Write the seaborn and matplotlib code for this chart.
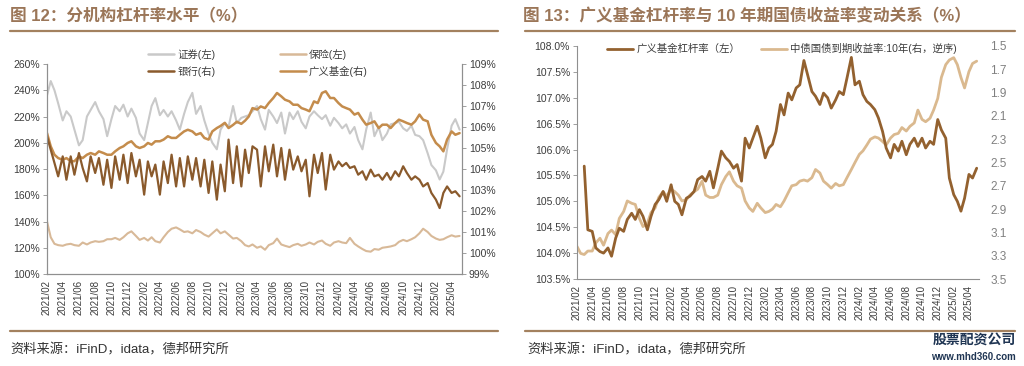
import pandas as pd
import matplotlib
matplotlib.use("Agg")
import matplotlib.pyplot as plt
import matplotlib.dates as mdates
from matplotlib.lines import Line2D
from matplotlib.ticker import MultipleLocator, FuncFormatter
import seaborn as sns

# ---- values, one point per half month from 2021/02 ----
# 证券(左), %
sec_lev = [236, 247, 240, 230, 217, 224, 220, 210, 198, 202,
           220, 225, 231, 224, 218, 205, 218, 228, 224, 229,
           220, 226, 219, 207, 202, 215, 228, 234, 221, 225,
           220, 224, 217, 210, 222, 231, 238, 222, 228, 217,
           207, 200, 195, 210, 215, 212, 228, 215, 219, 220,
           221, 224, 228, 218, 210, 225, 220, 215, 223, 207,
           223, 218, 224, 216, 211, 220, 224, 221, 218, 221,
           213, 219, 215, 211, 214, 207, 212, 202, 195, 210,
           223, 205, 212, 202, 207, 214, 215, 216, 211, 209,
           213, 206, 205, 202, 192, 183, 179, 172, 178, 195,
           213, 218, 210]

# 保险(左), %
ins_lev = [140, 128, 123, 122, 121.5, 122.5, 123, 122, 121.5, 124,
           122.5, 124, 125, 124.5, 125, 126.5, 126.5, 127.5, 126, 128,
           131, 132.5, 129, 126, 127.5, 125.5, 128, 125, 124, 128,
           132, 134.5, 135.5, 134, 132, 132.5, 131, 133.5, 132, 130,
           128.5, 131, 134, 131, 132.5, 130, 127, 127.5, 125, 122,
           121, 122.5, 120, 121, 118.5, 122, 123.5, 127, 122.5, 121.5,
           120.5, 122, 123, 121.5, 122.5, 124, 122.5, 124.5, 125.5, 123,
           121.5, 124, 125, 124, 123.5, 127.5, 123, 121, 119, 117.5,
           117, 119, 118.5, 120, 120.5, 121, 122, 124.5, 126, 125,
           126.5, 128, 131, 134.5, 132, 129, 127, 126, 126.5, 128,
           129.5, 128.5, 129]

# 银行(右), %
bank_lev = [105.56, 104.92, 104.29, 103.65, 104.60, 103.49, 104.60, 103.73, 104.76, 104.05,
            103.41, 104.60, 103.81, 104.52, 103.25, 104.44, 103.10, 104.60, 103.49, 104.68,
            103.33, 104.76, 103.65, 104.44, 102.78, 104.36, 103.65, 104.21, 102.78, 104.36,
            103.33, 104.68, 103.17, 104.52, 103.17, 104.60, 103.49, 104.52, 103.17, 104.44,
            102.86, 104.36, 102.54, 104.21, 102.94, 105.40, 103.33, 105.08, 103.17, 104.92,
            103.81, 105.08, 104.92, 103.17, 105.08, 103.89, 105.16, 103.65, 105.00, 103.49,
            104.92, 103.97, 104.60, 103.89, 104.44, 102.70, 104.68, 103.81, 104.76, 103.02,
            104.68, 103.97, 104.36, 104.13, 104.29, 104.05, 104.13, 103.73, 103.89, 103.49,
            103.97, 103.65, 103.73, 103.49, 103.81, 103.49, 103.89, 103.65, 104.13, 103.81,
            103.49, 103.65, 103.49, 103.17, 103.33, 102.86, 102.54, 102.14, 102.86, 103.17,
            102.86, 102.94, 102.70]

# 广义基金(右), %
fund_lev = [105.71, 105.08, 104.68, 104.52, 104.44, 104.52, 104.37, 104.37, 104.60, 104.52,
            104.68, 104.76, 104.68, 104.84, 104.76, 104.68, 104.68, 104.84, 105.00, 105.08,
            105.24, 105.32, 105.08, 105.00, 105.08, 105.24, 105.16, 105.32, 105.32, 105.40,
            105.56, 105.48, 105.48, 105.63, 105.79, 105.87, 105.79, 105.63, 105.71, 105.48,
            105.40, 105.79, 105.95, 106.05, 106.20, 105.95, 106.10, 106.25, 106.15, 106.30,
            106.50, 106.90, 106.83, 106.98, 106.90, 107.14, 107.38, 107.62, 107.46, 107.30,
            107.22, 107.06, 107.06, 106.90, 106.83, 106.75, 107.22, 107.14, 107.62, 107.70,
            107.38, 107.38, 107.14, 106.98, 106.90, 106.83, 106.59, 106.67, 106.35, 106.11,
            106.19, 106.27, 105.95, 106.11, 106.11, 105.95, 106.19, 106.35, 106.27, 106.19,
            106.11, 106.27, 106.59, 106.35, 106.27, 105.63, 105.24, 105.08, 104.84, 105.40,
            105.79, 105.63, 105.71]

# 广义基金杠杆率(左) in chart 13, %
fund_lev2 = [None, None, 105.68, 104.45, 104.42, 104.10, 104.03, 104.00, 104.10, 103.94,
             104.29, 104.48, 104.42, 104.65, 104.77, 104.65, 104.84, 104.71, 104.45, 104.71,
             104.94, 105.03, 105.19, 105.00, 105.32, 105.00, 104.94, 104.74, 105.06, 105.10,
             105.19, 105.42, 105.48, 105.39, 105.58, 105.26, 105.64, 105.97, 105.84, 105.77,
             105.64, 105.71, 105.39, 106.22, 106.03, 106.22, 106.45, 106.22, 105.84, 106.03,
             106.10, 106.35, 106.87, 106.67, 107.09, 106.96, 107.19, 107.25, 107.72, 107.45,
             107.12, 107.03, 106.87, 107.09, 107.00, 106.80, 106.96, 107.12, 107.06, 107.38,
             107.78, 107.25, 107.32, 107.06, 106.93, 106.87, 106.77, 106.61, 106.35, 106.03,
             105.84, 106.10, 105.97, 106.16, 105.90, 106.10, 106.22, 106.06, 106.22, 106.03,
             106.16, 106.10, 106.58, 106.38, 106.22, 105.45, 105.13, 105.00, 104.81, 105.06,
             105.52, 105.45, 105.64]

# 中债国债到期收益率:10年, %
cgb10y = [3.22, 3.28, 3.29, 3.26, 3.26, 3.19, 3.15, 3.21, 3.11, 3.08,
          3.12, 2.98, 2.92, 2.83, 2.85, 2.86, 2.98, 3.05, 3.02, 2.93,
          2.89, 2.80, 2.75, 2.79, 2.73, 2.75, 2.78, 2.83, 2.82, 2.78,
          2.75, 2.73, 2.66, 2.78, 2.80, 2.80, 2.78, 2.69, 2.62, 2.58,
          2.66, 2.70, 2.72, 2.83, 2.89, 2.92, 2.85, 2.89, 2.93, 2.92,
          2.90, 2.86, 2.88, 2.83, 2.76, 2.70, 2.69, 2.66, 2.65, 2.66,
          2.63, 2.56, 2.59, 2.66, 2.69, 2.72, 2.68, 2.70, 2.69, 2.63,
          2.56, 2.50, 2.43, 2.40, 2.35, 2.30, 2.28, 2.29, 2.32, 2.35,
          2.29, 2.26, 2.25, 2.20, 2.23, 2.19, 2.16, 2.05, 2.13, 2.15,
          2.12, 2.05, 1.95, 1.77, 1.66, 1.62, 1.60, 1.66, 1.77, 1.86,
          1.72, 1.65, 1.63]

dates = pd.date_range("2021-02-01", periods=len(sec_lev), freq="SMS")

df_left = pd.DataFrame({"date": dates, "sec": sec_lev, "ins": ins_lev,
                        "bank": bank_lev, "fund": fund_lev})
df_right = pd.DataFrame({"date": dates, "fund": pd.to_numeric(pd.Series(fund_lev2)),
                         "cgb": cgb10y})

sns.set_theme(style="white")
plt.rcParams["font.family"] = ["Liberation Sans", "Noto Sans CJK SC"]
plt.rcParams["axes.unicode_minus"] = False

TITLE_C = "#9b7658"
RULE_C = "#a3815f"
TICK_C = "#3c3c3c"
SPINE_C = "#8f8f8f"

fig = plt.figure(figsize=(10.24, 3.66), dpi=100)


def box(x0, y0, x1, y1):
    # pixel box -> figure fraction
    return [x0 / 1024, 1 - y1 / 366, (x1 - x0) / 1024, (y1 - y0) / 366]


x_start = pd.Timestamp("2021-02-01")
x_end = pd.Timestamp("2025-05-10")

# ================= chart 12 =================
ax1 = fig.add_axes(box(47, 64, 462, 274))
ax1r = ax1.twinx()

sns.lineplot(data=df_left, x="date", y="sec", ax=ax1, color="#c9c9c9", lw=1.5, legend=False)
sns.lineplot(data=df_left, x="date", y="ins", ax=ax1, color="#d8b998", lw=1.5, legend=False)
sns.lineplot(data=df_left, x="date", y="fund", ax=ax1r, color="#c48c4c", lw=1.8, legend=False)
sns.lineplot(data=df_left, x="date", y="bank", ax=ax1r, color="#8a5a2c", lw=1.6, legend=False)

ax1.set_ylim(100, 260)
ax1.yaxis.set_major_locator(MultipleLocator(20))
ax1.yaxis.set_major_formatter(FuncFormatter(lambda v, p: f"{v:.0f}%"))
ax1r.set_ylim(99, 109)
ax1r.yaxis.set_major_locator(MultipleLocator(1))
ax1r.yaxis.set_major_formatter(FuncFormatter(lambda v, p: f"{v:.0f}%"))

for a in (ax1, ax1r):
    a.set_xlabel("")
    a.set_ylabel("")
    a.set_xlim(x_start, x_end)
    a.spines["top"].set_visible(False)
    for s in ("left", "right", "bottom"):
        a.spines[s].set_color(SPINE_C)
        a.spines[s].set_linewidth(0.8)
    a.tick_params(axis="y", direction="out", length=3, width=0.6, color=SPINE_C,
                  labelsize=7.5, labelcolor=TICK_C, pad=2)

ax1.xaxis.set_major_locator(mdates.MonthLocator(bymonth=[2, 4, 6, 8, 10, 12]))
ax1.xaxis.set_major_formatter(mdates.DateFormatter("%Y/%m"))
ax1.tick_params(axis="x", direction="in", length=3, width=0.6, color=SPINE_C,
                labelsize=7, labelcolor=TICK_C, labelrotation=90, pad=4)

h_left = [Line2D([], [], color="#c9c9c9", lw=1.8), Line2D([], [], color="#8a5a2c", lw=1.8),
          Line2D([], [], color="#d8b998", lw=1.8), Line2D([], [], color="#c48c4c", lw=1.8)]
fig.legend(h_left, ["证券(左)", "银行(右)", "保险(左)", "广义基金(右)"],
           loc="upper left", bbox_to_anchor=(148 / 1024, 1 - 49 / 366),
           bbox_transform=fig.transFigure, ncol=2, frameon=False, fontsize=7.5,
           handlelength=2.5, handletextpad=0.3, columnspacing=6.2,
           labelspacing=0.6, borderpad=0, borderaxespad=0, labelcolor=TICK_C)

# ================= chart 13 =================
ax2 = fig.add_axes(box(577, 46, 979, 279))
ax2r = ax2.twinx()

sns.lineplot(data=df_right, x="date", y="cgb", ax=ax2r, color="#dab98f", lw=2.0, legend=False)
sns.lineplot(data=df_right, x="date", y="fund", ax=ax2, color="#93612f", lw=2.0, legend=False)
ax2.set_zorder(ax2r.get_zorder() + 1)
ax2.patch.set_visible(False)

ax2.set_ylim(103.5, 108.0)
ax2.yaxis.set_major_locator(MultipleLocator(0.5))
ax2.yaxis.set_major_formatter(FuncFormatter(lambda v, p: f"{v:.1f}%"))
ax2r.set_ylim(3.5, 1.5)
ax2r.yaxis.set_major_locator(MultipleLocator(0.2, offset=0.1))
ax2r.yaxis.set_major_formatter(FuncFormatter(lambda v, p: f"{v:.1f}"))

for a in (ax2, ax2r):
    a.set_xlabel("")
    a.set_ylabel("")
    a.set_xlim(x_start, x_end)
    a.spines["top"].set_visible(False)
    a.spines["right"].set_visible(False)
ax2r.spines["left"].set_visible(False)
ax2r.spines["bottom"].set_visible(False)
for s in ("left", "bottom"):
    ax2.spines[s].set_color(SPINE_C)
    ax2.spines[s].set_linewidth(0.8)

ax2.tick_params(axis="y", direction="out", length=3, width=0.6, color=SPINE_C,
                labelsize=7.5, labelcolor=TICK_C, pad=2)
ax2r.tick_params(axis="y", length=0, labelsize=8.5, labelcolor="#808080", pad=8)
ax2.xaxis.set_major_locator(mdates.MonthLocator(bymonth=[2, 4, 6, 8, 10, 12]))
ax2.xaxis.set_major_formatter(mdates.DateFormatter("%Y/%m"))
ax2.tick_params(axis="x", direction="in", length=3, width=0.6, color=SPINE_C,
                labelsize=7, labelcolor=TICK_C, labelrotation=90, pad=4)

h_right = [Line2D([], [], color="#93612f", lw=2.0), Line2D([], [], color="#dab98f", lw=2.0)]
fig.legend(h_right, ["广义基金杠杆率（左）", "中债国债到期收益率:10年(右，逆序)"],
           loc="upper left", bbox_to_anchor=(607 / 1024, 1 - 43 / 366),
           bbox_transform=fig.transFigure, ncol=2, frameon=False, fontsize=7.5,
           handlelength=2.5, handletextpad=0.3, columnspacing=2.0,
           borderpad=0, borderaxespad=0, labelcolor=TICK_C)

# ================= titles, rules, sources =================
fig.text(10 / 1024, 1 - 16 / 366, "图 12：分机构杠杆率水平（%）", fontsize=12,
         fontweight="bold", color=TITLE_C, va="center")
fig.text(523 / 1024, 1 - 16 / 366, "图 13：广义基金杠杆率与 10 年期国债收益率变动关系（%）",
         fontsize=12, fontweight="bold", color=TITLE_C, va="center")

for x0, x1 in ((10, 498), (525, 1015)):
    for yy in (31, 331):
        fig.add_artist(Line2D([x0 / 1024, x1 / 1024], [1 - yy / 366, 1 - yy / 366],
                              transform=fig.transFigure, color=RULE_C, lw=1.6))

fig.text(10 / 1024, 1 - 350 / 366, "资料来源：iFinD，idata，德邦研究所", fontsize=9.5,
         color="#333333", va="center")
fig.text(527 / 1024, 1 - 350 / 366, "资料来源：iFinD，idata，德邦研究所", fontsize=9.5,
         color="#333333", va="center")

fig.text(1016 / 1024, 1 - 341 / 366, "股票配资公司", fontsize=10, fontweight="bold",
         color="#1f3553", ha="right", va="center")
fig.text(1016 / 1024, 1 - 357 / 366, "www.mhd360.com", fontsize=7, fontweight="bold",
         color="#1f3553", ha="right", va="center")

fig.savefig("out.png", dpi=100)
